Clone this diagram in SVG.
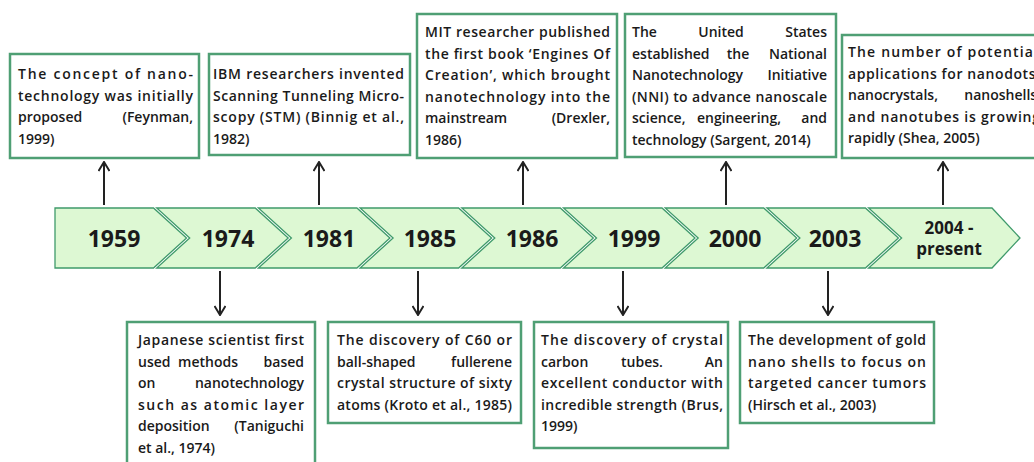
<svg xmlns="http://www.w3.org/2000/svg" width="1034" height="462" viewBox="0 0 1034 462">
<style>
.box{fill:#ffffff;stroke:#4f9f74;stroke-width:2.5}
.chev{fill:#ddf8d3;stroke:#3f9a6b;stroke-width:1.3}
.t{font-family:"Open Sans","Noto Sans","Liberation Sans",sans-serif;font-weight:600;font-size:14px;fill:#1a1a1a}
.e{text-anchor:end}
.m{text-anchor:middle}
.yr{font-family:"Open Sans","Noto Sans","Liberation Sans",sans-serif;font-weight:700;font-size:23px;fill:#1a1a1a;text-anchor:middle}
.yr2{font-family:"Open Sans","Noto Sans","Liberation Sans",sans-serif;font-weight:700;font-size:17px;fill:#1a1a1a;text-anchor:middle}
.arr{stroke:#222;stroke-width:2;fill:none;marker-end:url(#ah)}
</style>
<defs>
<marker id="ah" viewBox="0 0 12 12" refX="11" refY="6" markerWidth="12" markerHeight="12" markerUnits="userSpaceOnUse" orient="auto">
<path d="M2,0.5 L11,6 L2,11.5" fill="none" stroke="#222" stroke-width="2"/>
</marker>
</defs>
<rect width="1034" height="462" fill="#ffffff"/>

<g id="timeline">
<g id="y1959"><polygon class="chev" points="55,208 153.5,208 186.5,238 153.5,268 55,268"/><text class="yr" x="114" y="247">1959</text></g>
<g id="y1974"><polygon class="chev" points="156.7,208 255.2,208 288.2,238 255.2,268 156.7,268 189.7,238"/><text class="yr" x="228" y="247">1974</text></g>
<g id="y1981"><polygon class="chev" points="258.4,208 356.9,208 389.9,238 356.9,268 258.4,268 291.4,238"/><text class="yr" x="329" y="247">1981</text></g>
<g id="y1985"><polygon class="chev" points="360.1,208 458.6,208 491.6,238 458.6,268 360.1,268 393.1,238"/><text class="yr" x="430" y="247">1985</text></g>
<g id="y1986"><polygon class="chev" points="461.8,208 560.3,208 593.3,238 560.3,268 461.8,268 494.8,238"/><text class="yr" x="532" y="247">1986</text></g>
<g id="y1999"><polygon class="chev" points="563.5,208 662,208 695,238 662,268 563.5,268 596.5,238"/><text class="yr" x="634" y="247">1999</text></g>
<g id="y2000"><polygon class="chev" points="665.2,208 763.7,208 796.7,238 763.7,268 665.2,268 698.2,238"/><text class="yr" x="735" y="247">2000</text></g>
<g id="y2003"><polygon class="chev" points="766.9,208 865.4,208 898.4,238 865.4,268 766.9,268 799.9,238"/><text class="yr" x="835" y="247">2003</text></g>
<g id="y2004"><polygon class="chev" points="868.6,208 992,208 1020,238 992,268 868.6,268 901.6,238"/><text class="yr2" x="949" y="234">2004 -</text><text class="yr2" x="949" y="255">present</text></g>
</g>

<g id="connectors">
<line class="arr" x1="104" y1="205" x2="104" y2="162"/>
<line class="arr" x1="319" y1="205" x2="319" y2="162"/>
<line class="arr" x1="523" y1="205" x2="523" y2="162"/>
<line class="arr" x1="726" y1="205" x2="726" y2="162"/>
<line class="arr" x1="943" y1="205" x2="943" y2="162"/>
<line class="arr" x1="220" y1="271" x2="220" y2="315"/>
<line class="arr" x1="418" y1="271" x2="418" y2="315"/>
<line class="arr" x1="623" y1="271" x2="623" y2="315"/>
<line class="arr" x1="828" y1="271" x2="828" y2="315"/>
</g>

<g id="box1959">
<rect class="box" x="10" y="54" width="189" height="104"/>
<text class="t" x="18" y="79" textLength="175" lengthAdjust="spacing">The concept of nano-</text>
<text class="t" x="18" y="100.5" textLength="175" lengthAdjust="spacing">technology was initially</text>
<text class="t" x="18" y="122">proposed</text><text class="t e" x="193" y="122">(Feynman,</text>
<text class="t" x="18" y="143.5">1999)</text>
</g>

<g id="box1981">
<rect class="box" x="209" y="54" width="201" height="101"/>
<text class="t" x="213" y="79" textLength="191" lengthAdjust="spacing">IBM researchers invented</text>
<text class="t" x="213" y="100.5" textLength="191" lengthAdjust="spacing">Scanning Tunneling Micro-</text>
<text class="t" x="213" y="122" textLength="191" lengthAdjust="spacing">scopy (STM) (Binnig et al.,</text>
<text class="t" x="213" y="143.5">1982)</text>
</g>

<g id="box1986">
<rect class="box" x="417" y="14" width="200" height="144"/>
<text class="t" x="425" y="37" textLength="185" lengthAdjust="spacing">MIT researcher published</text>
<text class="t" x="425" y="58.5" textLength="185" lengthAdjust="spacing">the first book ‘Engines Of</text>
<text class="t" x="425" y="80" textLength="185" lengthAdjust="spacing">Creation’, which brought</text>
<text class="t" x="425" y="101.5" textLength="185" lengthAdjust="spacing">nanotechnology into the</text>
<text class="t" x="425" y="123">mainstream</text><text class="t e" x="610" y="123">(Drexler,</text>
<text class="t" x="425" y="144.5">1986)</text>
</g>

<g id="box2000">
<rect class="box" x="625" y="14" width="211" height="143"/>
<text class="t" x="632" y="37">The</text><text class="t m" x="721" y="37">United</text><text class="t e" x="827" y="37">States</text>
<text class="t" x="632" y="58.5">established</text><text class="t m" x="738" y="58.5">the</text><text class="t e" x="827" y="58.5">National</text>
<text class="t" x="632" y="80">Nanotechnology</text><text class="t e" x="827" y="80">Initiative</text>
<text class="t" x="632" y="101.5" textLength="195" lengthAdjust="spacing">(NNI) to advance nanoscale</text>
<text class="t" x="632" y="123">science,</text><text class="t m" x="739" y="123">engineering,</text><text class="t e" x="827" y="123">and</text>
<text class="t" x="632" y="144.5">technology (Sargent, 2014)</text>
</g>

<g id="box2004">
<rect class="box" x="842" y="35" width="200" height="123"/>
<text class="t" x="848" y="57" textLength="190" lengthAdjust="spacing">The number of potential</text>
<text class="t" x="848" y="78.5" textLength="192" lengthAdjust="spacing">applications for nanodots,</text>
<text class="t" x="848" y="100">nanocrystals,</text><text class="t e" x="1041" y="100">nanoshells,</text>
<text class="t" x="848" y="121.5" textLength="192" lengthAdjust="spacing">and nanotubes is growing</text>
<text class="t" x="848" y="143">rapidly (Shea, 2005)</text>
</g>

<g id="box1974">
<rect class="box" x="127" y="322" width="188" height="150"/>
<text class="t" x="138" y="345" textLength="166" lengthAdjust="spacing">Japanese scientist first</text>
<text class="t" x="138" y="366.5">used</text><text class="t m" x="208" y="366.5">methods</text><text class="t e" x="304" y="366.5">based</text>
<text class="t" x="138" y="388">on</text><text class="t e" x="304" y="388">nanotechnology</text>
<text class="t" x="138" y="409.5" textLength="166" lengthAdjust="spacing">such as atomic layer</text>
<text class="t" x="138" y="431">deposition</text><text class="t e" x="304" y="431">(Taniguchi</text>
<text class="t" x="138" y="452.5">et al., 1974)</text>
</g>

<g id="box1985">
<rect class="box" x="328" y="322" width="193" height="101"/>
<text class="t" x="337" y="345" textLength="175" lengthAdjust="spacing">The discovery of C60 or</text>
<text class="t" x="337" y="366.5">ball-shaped</text><text class="t e" x="512" y="366.5">fullerene</text>
<text class="t" x="337" y="388" textLength="175" lengthAdjust="spacing">crystal structure of sixty</text>
<text class="t" x="337" y="409.5" textLength="175" lengthAdjust="spacing">atoms (Kroto et al., 1985)</text>
</g>

<g id="box1999">
<rect class="box" x="534" y="322" width="194" height="126"/>
<text class="t" x="541" y="345" textLength="182" lengthAdjust="spacing">The discovery of crystal</text>
<text class="t" x="541" y="366.5">carbon</text><text class="t m" x="642" y="366.5">tubes.</text><text class="t e" x="723" y="366.5">An</text>
<text class="t" x="541" y="388" textLength="182" lengthAdjust="spacing">excellent conductor with</text>
<text class="t" x="541" y="409.5" textLength="182" lengthAdjust="spacing">incredible strength (Brus,</text>
<text class="t" x="541" y="431">1999)</text>
</g>

<g id="box2003">
<rect class="box" x="740" y="322" width="194" height="101"/>
<text class="t" x="748" y="345" textLength="178" lengthAdjust="spacing">The development of gold</text>
<text class="t" x="748" y="366.5" textLength="178" lengthAdjust="spacing">nano shells to focus on</text>
<text class="t" x="748" y="388" textLength="178" lengthAdjust="spacing">targeted cancer tumors</text>
<text class="t" x="748" y="409.5">(Hirsch et al., 2003)</text>
</g>
</svg>
